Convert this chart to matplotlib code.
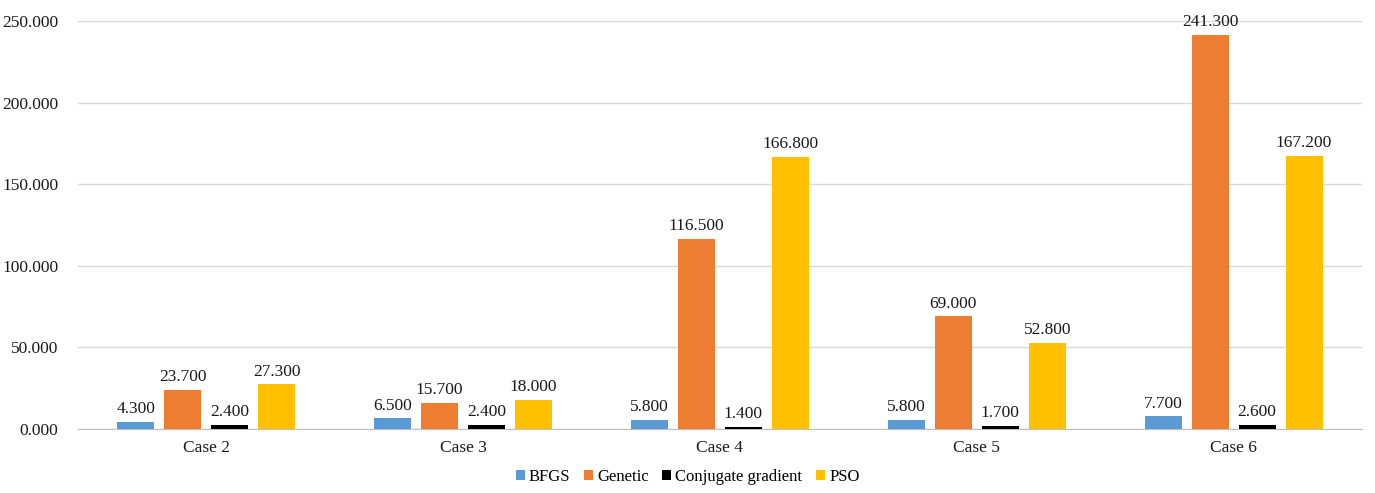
import numpy as np
import matplotlib.pyplot as plt

cases = ['Case 2', 'Case 3', 'Case 4', 'Case 5', 'Case 6']
bfgs = [4.3, 6.5, 5.8, 5.8, 7.7]
genetic = [23.7, 15.7, 116.5, 69.0, 241.3]
conj_grad = [2.4, 2.4, 1.4, 1.7, 2.6]
pso = [27.3, 18.0, 166.8, 52.8, 167.2]

series = [('BFGS', bfgs, '#5B9BD5'),
          ('Genetic', genetic, '#ED7D31'),
          ('Conjugate gradient', conj_grad, '#000000'),
          ('PSO', pso, '#FFC000')]

plt.rcParams['font.family'] = ['Liberation Serif', 'DejaVu Serif']
fs = 12.5

fig = plt.figure(figsize=(13.75, 4.93), dpi=100)
ax = fig.add_axes([0.0567, 0.1298, 0.9338, 0.8276])

x = np.arange(len(cases))
step = 0.183
width = 0.144
for i, (name, vals, col) in enumerate(series):
    pos = x + (i - 1.5) * step
    bars = ax.bar(pos, vals, width, color=col, label=name, zorder=3)
    for b, v in zip(bars, vals):
        ax.text(b.get_x() + b.get_width() / 2, v + 3, '%.3f' % v,
                ha='center', va='bottom', fontsize=fs, color='#1a1a1a', zorder=4)

ax.set_xlim(-0.5, len(cases) - 0.5)
ax.set_ylim(0, 250)
ax.set_yticks(np.arange(0, 251, 50))
ax.set_yticklabels(['%.3f' % t for t in np.arange(0, 251, 50)], fontsize=fs, color='#1a1a1a')
ax.set_xticks(x)
ax.set_xticklabels(cases, fontsize=fs, color='#1a1a1a')
ax.tick_params(axis='y', length=0, pad=14)
ax.tick_params(axis='x', length=0, pad=8)
ax.grid(axis='y', color='#D9D9D9', linewidth=1, zorder=0)
for s in ['top', 'right', 'left']:
    ax.spines[s].set_visible(False)
ax.spines['bottom'].set_color('#BFBFBF')

# legend centred on the whole figure, under the category labels
handles, labels = ax.get_legend_handles_labels()
fig.legend(handles, labels, loc='center', bbox_to_anchor=(0.5, 1 - 477 / 493), ncol=4,
           frameon=False, fontsize=12, handlelength=0.55, handleheight=0.55,
           handletextpad=0.25, columnspacing=0.8)

fig.savefig('out.png', dpi=100)
